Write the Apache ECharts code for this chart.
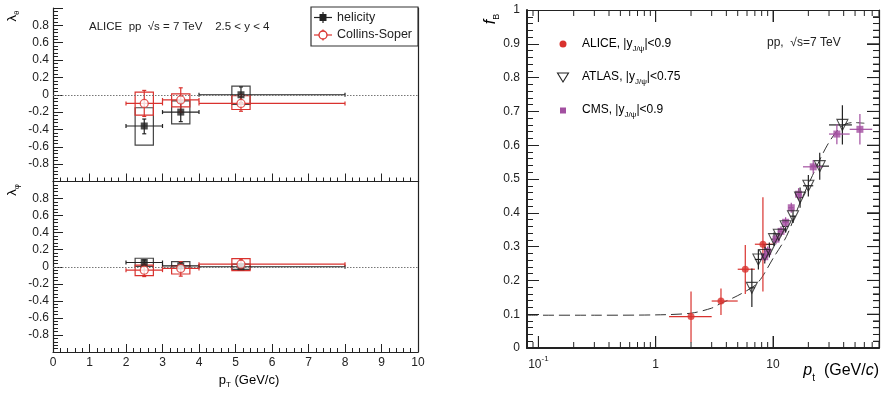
<!DOCTYPE html>
<html>
<head>
<meta charset="utf-8">
<script src="https://cdn.jsdelivr.net/npm/echarts@6/dist/echarts.min.js"></script>
<style>
  html, body {margin: 0; padding: 0; background: #fff;}
  #chart {width: 883px; height: 393px;}
</style>
</head>
<body>
<div id="chart"></div>
<script>
// ---- left: polarization parameters vs pT ----
const ptCenter = [2.5, 3.5, 5.15];
const ptLow = [2, 3, 4];
const ptHigh = [3, 4, 8];
const boxHalf = 0.25;

// lambda_theta, helicity frame
const lthHe = [-0.36, -0.20, 0.0];
const lthHeStatLo = [-0.45, -0.31, -0.09];
const lthHeStatHi = [-0.28, -0.09, 0.09];
const lthHeSysLo = [-0.58, -0.335, -0.11];
const lthHeSysHi = [-0.15, -0.07, 0.10];
// lambda_theta, Collins-Soper frame
const lthCs = [-0.10, -0.06, -0.10];
const lthCsStatLo = [-0.25, -0.20, -0.19];
const lthCsStatHi = [0.05, 0.08, 0.0];
const lthCsSysLo = [-0.235, -0.14, -0.17];
const lthCsSysHi = [0.03, 0.01, -0.01];
// lambda_phi, helicity frame
const lphHe = [0.05, 0.01, 0.0];
const lphHeStatLo = [0.02, -0.02, -0.03];
const lphHeStatHi = [0.08, 0.05, 0.03];
const lphHeSysLo = [0.005, -0.02, -0.03];
const lphHeSysHi = [0.10, 0.06, 0.03];
// lambda_phi, Collins-Soper frame
const lphCs = [-0.04, -0.02, 0.03];
const lphCsStatLo = [-0.115, -0.11, -0.03];
const lphCsStatHi = [0.03, 0.06, 0.09];
const lphCsSysLo = [-0.105, -0.085, -0.045];
const lphCsSysHi = [0.02, 0.01, 0.095];

// ---- right: non-prompt fraction f_B vs pt ----
const aliceX = [2.0, 3.6, 5.8, 8.2];
const aliceY = [0.093, 0.139, 0.233, 0.307];
const aliceXLo = [1.3, 3, 5, 7];
const aliceXHi = [3, 5, 7, 10];
const aliceYLo = [0.017, 0.098, 0.16, 0.167];
const aliceYHi = [0.167, 0.176, 0.305, 0.446];

const atlasX = [6.6, 7.5, 8.5, 9.3, 10.2, 11.2, 12.8, 14.8, 17, 20, 25, 39];
const atlasY = [0.178, 0.262, 0.275, 0.29, 0.322, 0.335, 0.36, 0.39, 0.445, 0.48, 0.538, 0.66];
const atlasErr = [0.057, 0.03, 0.025, 0.022, 0.02, 0.018, 0.018, 0.02, 0.03, 0.032, 0.04, 0.058];
const atlasXLo = [6.3, 7, 8, 9, 9.7, 10.7, 12, 14, 16, 18, 21, 30];
const atlasXHi = [7, 8, 9, 9.7, 10.7, 11.8, 13.5, 15.6, 18, 22, 30, 47];

const cmsX = [8.5, 9.0, 10.6, 11.7, 12.8, 14.3, 16.5, 22, 35, 55];
const cmsY = [0.27, 0.285, 0.322, 0.345, 0.372, 0.415, 0.455, 0.536, 0.633, 0.647];
const cmsErr = [0.015, 0.015, 0.015, 0.015, 0.015, 0.015, 0.018, 0.02, 0.03, 0.045];
const cmsXLo = [8, 8.5, 10, 11, 12, 13.5, 15.5, 18, 30, 45];
const cmsXHi = [9, 9.5, 11, 12.2, 13.5, 15, 17.5, 26.6, 45, 70];

const curveX = [0.08, 0.3, 1, 2, 3, 3.5, 5, 7, 8, 10, 13, 17, 21, 29, 38, 48, 60];
const curveY = [0.097, 0.097, 0.098, 0.103, 0.118, 0.13, 0.155, 0.185, 0.208, 0.265, 0.33, 0.43, 0.5, 0.6, 0.655, 0.667, 0.665];

// tick positions for the right frame (log x, mirrored y)
const logMajor = [0.1, 1, 10];
const logMinor = [0.09, 0.2, 0.3, 0.4, 0.5, 0.6, 0.7, 0.8, 0.9, 2, 3, 4, 5, 6, 7, 8, 9, 20, 30, 40, 50, 60, 70, 80];
const fbTicks = [];
for (let k = 1; k < 50; k++) fbTicks.push(k / 50);

const BLACK = '#222';
const RED = '#d9322e';
const PURPLE = '#a24fa0';
const FONT = 'Liberation Sans';

const chart = echarts.init(document.getElementById('chart'));

function errRender(color, cap) {
  return function (params, api) {
    const x = api.value(0), y = api.value(1);
    const c = api.coord([x, y]);
    const l = api.coord([api.value(2), y]);
    const r = api.coord([api.value(3), y]);
    const b = api.coord([x, api.value(4)]);
    const t = api.coord([x, api.value(5)]);
    const st = {stroke: color, lineWidth: 1.2};
    const kids = [
      {type: 'line', shape: {x1: l[0], y1: c[1], x2: r[0], y2: c[1]}, style: st},
      {type: 'line', shape: {x1: c[0], y1: b[1], x2: c[0], y2: t[1]}, style: st}
    ];
    if (cap) {
      kids.push({type: 'line', shape: {x1: l[0], y1: c[1] - cap, x2: l[0], y2: c[1] + cap}, style: st});
      kids.push({type: 'line', shape: {x1: r[0], y1: c[1] - cap, x2: r[0], y2: c[1] + cap}, style: st});
      kids.push({type: 'line', shape: {x1: c[0] - cap, y1: b[1], x2: c[0] + cap, y2: b[1]}, style: st});
      kids.push({type: 'line', shape: {x1: c[0] - cap, y1: t[1], x2: c[0] + cap, y2: t[1]}, style: st});
    }
    return {type: 'group', children: kids};
  };
}

function boxRender(color) {
  return function (params, api) {
    const x = api.value(0);
    const p1 = api.coord([x - boxHalf, api.value(2)]);
    const p2 = api.coord([x + boxHalf, api.value(1)]);
    return {
      type: 'rect',
      shape: {x: p1[0], y: p1[1], width: p2[0] - p1[0], height: p2[1] - p1[1]},
      style: {fill: 'none', stroke: color, lineWidth: 1.2}
    };
  };
}

function errData(xs, ys, xl, xh, yl, yh) {
  return xs.map((x, i) => [x, ys[i], xl[i], xh[i], yl[i], yh[i]]);
}
function boxData(lo, hi) {
  return ptCenter.map((x, i) => [x, lo[i], hi[i]]);
}
function pts(xs, ys) {
  return xs.map((x, i) => [x, ys[i]]);
}

const zeroLine = {
  silent: true, symbol: 'none', label: {show: false},
  lineStyle: {color: '#777', type: [1.5, 1.5], width: 1},
  data: [{yAxis: 0}]
};

function leftPanel(xi, yi, he, heLo, heHi, heSLo, heSHi, cs, csLo, csHi, csSLo, csSHi) {
  return [
    {type: 'custom', xAxisIndex: xi, yAxisIndex: yi, renderItem: boxRender('#444'),
     data: boxData(heSLo, heSHi), z: 2, markLine: zeroLine},
    {type: 'custom', xAxisIndex: xi, yAxisIndex: yi, renderItem: boxRender(RED),
     data: boxData(csSLo, csSHi), z: 2},
    {type: 'custom', xAxisIndex: xi, yAxisIndex: yi, renderItem: errRender(BLACK, 2),
     data: errData(ptCenter, he, ptLow, ptHigh, heLo, heHi), z: 3},
    {type: 'custom', xAxisIndex: xi, yAxisIndex: yi, renderItem: errRender(RED, 2),
     data: errData(ptCenter, cs, ptLow, ptHigh, csLo, csHi), z: 3},
    {type: 'scatter', xAxisIndex: xi, yAxisIndex: yi, symbol: 'rect', symbolSize: 7,
     itemStyle: {color: BLACK}, data: pts(ptCenter, he), z: 4},
    {type: 'scatter', xAxisIndex: xi, yAxisIndex: yi, symbol: 'circle', symbolSize: 8,
     itemStyle: {color: '#fff', borderColor: RED, borderWidth: 1.3}, data: pts(ptCenter, cs), z: 5}
  ];
}

const labelStyle = {color: BLACK, fontFamily: FONT, fontSize: 12};

function lamY(gi, showLabels) {
  return {
    gridIndex: gi, type: 'value', min: -1, max: 1, interval: 0.2,
    axisLine: {show: true, lineStyle: {color: BLACK, width: 1.2}},
    axisTick: {inside: true, length: 10, lineStyle: {color: BLACK}},
    minorTick: {show: true, splitNumber: 5, length: 5, lineStyle: {color: BLACK}},
    splitLine: {show: false},
    axisLabel: Object.assign({show: showLabels, margin: 4, showMinLabel: false, showMaxLabel: false,
      formatter: v => Math.abs(v) < 1e-9 ? '0' : v.toFixed(1)}, labelStyle)
  };
}
function sideY(gi) {
  return {
    gridIndex: gi, type: 'value', position: 'right', min: -1, max: 1,
    axisLine: {show: true, lineStyle: {color: BLACK, width: 1.2}},
    axisTick: {show: false}, axisLabel: {show: false}, splitLine: {show: false}
  };
}
function ptX(gi, showLabels) {
  return {
    gridIndex: gi, type: 'value', min: 0, max: 10, interval: 1,
    axisLine: {show: true, onZero: false, lineStyle: {color: BLACK, width: 1.2}},
    axisTick: {inside: true, length: 8, lineStyle: {color: BLACK}},
    minorTick: {show: true, splitNumber: 5, length: 4, lineStyle: {color: BLACK}},
    splitLine: {show: false},
    axisLabel: Object.assign({show: showLabels, margin: 5}, labelStyle)
  };
}
function logX(pos, showLabels) {
  return {
    gridIndex: 2, type: 'log', logBase: 10, min: 0.08, max: 80, position: pos, zlevel: 1, z: 20,
    axisLine: {show: true, onZero: false, lineStyle: {color: BLACK, width: pos === 'bottom' ? 2 : 1.2}},
    axisTick: {inside: true, length: 12, lineStyle: {color: BLACK}},
    splitLine: {show: false},
    axisLabel: {show: showLabels, margin: 7, showMinLabel: false, showMaxLabel: false,
      formatter: v => {
        const e = Math.round(Math.log10(v));
        if (e === 0) return '{b|1}';
        if (e === 1) return '{b|10}';
        return '{b|10}{s|' + e + '}';
      },
      rich: {
        b: {fontFamily: FONT, fontSize: 12, color: BLACK, lineHeight: 16, verticalAlign: 'bottom'},
        s: {fontFamily: FONT, fontSize: 8, color: BLACK, lineHeight: 16, verticalAlign: 'top'}
      }}
  };
}
function fbY(pos, showLabels) {
  return {
    gridIndex: 2, type: 'value', min: 0, max: 1, interval: 0.1, position: pos, zlevel: 1, z: 20,
    axisLine: {show: true, onZero: false, lineStyle: {color: BLACK, width: pos === 'left' ? 2 : 1.2}},
    axisTick: {inside: true, length: 12, lineStyle: {color: BLACK}},
    minorTick: {show: true, splitNumber: 5, length: 6, lineStyle: {color: BLACK}},
    splitLine: {show: false},
    axisLabel: Object.assign({show: showLabels, margin: 7,
      formatter: v => Math.abs(v) < 1e-9 ? '0' : (Math.abs(v - 1) < 1e-9 ? '1' : v.toFixed(1))}, labelStyle)
  };
}

// ticks along bottom and top edges of the log panel
function logTickRender(params, api) {
  const cs = params.coordSys;
  const x = api.coord([api.value(0), 0.5])[0];
  const len = api.value(2) ? 12 : 6;
  const bottom = cs.y + cs.height, top = cs.y;
  const st = {stroke: BLACK, lineWidth: 1};
  return {type: 'group', children: [
    {type: 'line', shape: {x1: x, y1: bottom, x2: x, y2: bottom - len}, style: st},
    {type: 'line', shape: {x1: x, y1: top, x2: x, y2: top + len}, style: st}
  ]};
}
// ticks along the right edge of the log panel
function rightTickRender(params, api) {
  const cs = params.coordSys;
  const y = api.coord([1, api.value(1)])[1];
  const len = api.value(2) ? 12 : 6;
  const right = cs.x + cs.width;
  return {type: 'line', shape: {x1: right, y1: y, x2: right - len, y2: y},
    style: {stroke: BLACK, lineWidth: 1}};
}

function yErr(ys, e) { return ys.map((y, i) => y - e[i]); }
function yErrHi(ys, e) { return ys.map((y, i) => y + e[i]); }

const subTxt = {fontFamily: FONT, fontSize: 8, color: BLACK, verticalAlign: 'bottom', lineHeight: 18};
const mainTxt = {fontFamily: FONT, fontSize: 12, color: BLACK, verticalAlign: 'middle', lineHeight: 18};

chart.setOption({
  animation: false,
  backgroundColor: '#fff',
  grid: [
    {left: 53, top: 8, width: 365, height: 173.5},
    {left: 53, top: 181.5, width: 365, height: 170.5},
    {left: 527, top: 10, width: 352, height: 338}
  ],
  xAxis: [ptX(0, false), ptX(1, true), logX('bottom', true), logX('top', false)],
  yAxis: [lamY(0, true), sideY(0), lamY(1, true), sideY(1), fbY('left', true), fbY('right', false)],
  series: [
    ...leftPanel(0, 0, lthHe, lthHeStatLo, lthHeStatHi, lthHeSysLo, lthHeSysHi,
      lthCs, lthCsStatLo, lthCsStatHi, lthCsSysLo, lthCsSysHi),
    ...leftPanel(1, 2, lphHe, lphHeStatLo, lphHeStatHi, lphHeSysLo, lphHeSysHi,
      lphCs, lphCsStatLo, lphCsStatHi, lphCsSysLo, lphCsSysHi),
    {type: 'custom', xAxisIndex: 2, yAxisIndex: 4, renderItem: logTickRender, clip: false,
     encode: {x: 0, y: 1}, silent: true, zlevel: 1, z: 20,
     data: logMajor.map(v => [v, 0.5, 1]).concat(logMinor.map(v => [v, 0.5, 0]))},
    {type: 'custom', xAxisIndex: 2, yAxisIndex: 4, renderItem: rightTickRender, clip: false,
     encode: {x: 0, y: 1}, silent: true, zlevel: 1, z: 20,
     data: fbTicks.map((v, k) => [1, v, (k + 1) % 5 === 0 ? 1 : 0])},
    {type: 'line', xAxisIndex: 2, yAxisIndex: 4, data: pts(curveX, curveY), smooth: 0.3,
     showSymbol: false, lineStyle: {color: '#333', width: 1, type: [11, 5]}, z: 2},
    {type: 'custom', xAxisIndex: 2, yAxisIndex: 4, renderItem: errRender(RED, 0),
     data: errData(aliceX, aliceY, aliceXLo, aliceXHi, aliceYLo, aliceYHi), z: 3},
    {type: 'custom', xAxisIndex: 2, yAxisIndex: 4, renderItem: errRender(BLACK, 0),
     data: errData(atlasX, atlasY, atlasXLo, atlasXHi, yErr(atlasY, atlasErr), yErrHi(atlasY, atlasErr)), z: 3},
    {type: 'custom', xAxisIndex: 2, yAxisIndex: 4, renderItem: errRender(PURPLE, 0),
     data: errData(cmsX, cmsY, cmsXLo, cmsXHi, yErr(cmsY, cmsErr), yErrHi(cmsY, cmsErr)), z: 3},
    {name: 'CMS', type: 'scatter', xAxisIndex: 2, yAxisIndex: 4, symbol: 'rect', symbolSize: 7,
     itemStyle: {color: PURPLE}, data: pts(cmsX, cmsY), z: 4},
    {name: 'ATLAS', type: 'scatter', xAxisIndex: 2, yAxisIndex: 4, symbol: 'triangle', symbolRotate: 180,
     symbolSize: 11, itemStyle: {color: 'rgba(255,255,255,0)', borderColor: BLACK, borderWidth: 1.1},
     data: pts(atlasX, atlasY), z: 5},
    {name: 'ALICE', type: 'scatter', xAxisIndex: 2, yAxisIndex: 4, symbol: 'circle', symbolSize: 7,
     itemStyle: {color: RED}, data: pts(aliceX, aliceY), z: 6}
  ],
  graphic: [
    // axis titles
    {type: 'text', x: 12, y: 16, rotation: Math.PI / 2, style: {
      text: '{m|λ}{s|θ}', align: 'center', verticalAlign: 'middle',
      rich: {m: {fontFamily: FONT, fontSize: 13, color: BLACK, lineHeight: 18, verticalAlign: 'middle'},
             s: {fontFamily: FONT, fontSize: 8, color: BLACK, lineHeight: 18, verticalAlign: 'bottom'}}}},
    {type: 'text', x: 12, y: 190, rotation: Math.PI / 2, style: {
      text: '{m|λ}{s|φ}', align: 'center', verticalAlign: 'middle',
      rich: {m: {fontFamily: FONT, fontSize: 13, color: BLACK, lineHeight: 18, verticalAlign: 'middle'},
             s: {fontFamily: FONT, fontSize: 8, color: BLACK, lineHeight: 18, verticalAlign: 'bottom'}}}},
    {type: 'text', x: 249, y: 380, style: {
      text: '{m|p}{s|T}{m| (GeV/c)}', align: 'center', verticalAlign: 'middle',
      rich: {m: {fontFamily: FONT, fontSize: 13, color: BLACK, lineHeight: 18, verticalAlign: 'middle'},
             s: {fontFamily: FONT, fontSize: 8, color: BLACK, lineHeight: 18, verticalAlign: 'bottom'}}}},
    {type: 'text', x: 491, y: 19, rotation: Math.PI / 2, style: {
      text: '{m|f}{s|B}', align: 'center', verticalAlign: 'middle',
      rich: {m: {fontFamily: FONT, fontSize: 16, fontStyle: 'italic', color: BLACK, lineHeight: 20, verticalAlign: 'middle'},
             s: {fontFamily: FONT, fontSize: 9, color: BLACK, lineHeight: 20, verticalAlign: 'bottom'}}}},
    {type: 'text', x: 879, y: 371, style: {
      text: '{i|p}{s|t}{m|  (GeV/}{i|c}{m|)}', align: 'right', verticalAlign: 'middle',
      rich: {i: {fontFamily: FONT, fontSize: 16, fontStyle: 'italic', color: BLACK, lineHeight: 22, verticalAlign: 'middle'},
             m: {fontFamily: FONT, fontSize: 16, color: BLACK, lineHeight: 22, verticalAlign: 'middle'},
             s: {fontFamily: FONT, fontSize: 10, color: BLACK, lineHeight: 24, verticalAlign: 'bottom'}}}},
    // annotations
    {type: 'text', x: 89, y: 27, style: {text: 'ALICE  pp  √s = 7 TeV    2.5 < y < 4', fontFamily: FONT,
      fontSize: 11.5, fill: BLACK, verticalAlign: 'middle'}},
    {type: 'text', x: 767, y: 43, style: {text: 'pp,  √s=7 TeV', fontFamily: FONT,
      fontSize: 12, fill: BLACK, verticalAlign: 'middle'}},
    // left legend
    {type: 'rect', shape: {x: 311, y: 7, width: 107, height: 39}, style: {fill: '#fff', stroke: '#333', lineWidth: 1.2}, z: 10},
    {type: 'line', shape: {x1: 314, y1: 17.5, x2: 332, y2: 17.5}, style: {stroke: BLACK, lineWidth: 1.2}, z: 11},
    {type: 'line', shape: {x1: 323, y1: 12, x2: 323, y2: 23}, style: {stroke: BLACK, lineWidth: 1.2}, z: 11},
    {type: 'rect', shape: {x: 319.5, y: 14, width: 7, height: 7}, style: {fill: BLACK}, z: 12},
    {type: 'text', x: 337, y: 17.5, style: {text: 'helicity', fontFamily: FONT, fontSize: 12.5, fill: BLACK, verticalAlign: 'middle'}, z: 12},
    {type: 'line', shape: {x1: 314, y1: 35, x2: 332, y2: 35}, style: {stroke: RED, lineWidth: 1.2}, z: 11},
    {type: 'line', shape: {x1: 323, y1: 29.5, x2: 323, y2: 40.5}, style: {stroke: RED, lineWidth: 1.2}, z: 11},
    {type: 'circle', shape: {cx: 323, cy: 35, r: 4}, style: {fill: '#fff', stroke: RED, lineWidth: 1.3}, z: 12},
    {type: 'text', x: 337, y: 35, style: {text: 'Collins-Soper', fontFamily: FONT, fontSize: 12.5, fill: BLACK, verticalAlign: 'middle'}, z: 12},
    // right legend
    {type: 'circle', shape: {cx: 563, cy: 44, r: 3.5}, style: {fill: RED}},
    {type: 'polygon', shape: {points: [[557.5, 73], [568.5, 73], [563, 82]]}, style: {fill: 'none', stroke: BLACK, lineWidth: 1.1}},
    {type: 'rect', shape: {x: 560, y: 107.5, width: 6, height: 6}, style: {fill: PURPLE}},
    {type: 'text', x: 582, y: 44, style: {text: '{m|ALICE, |y}{s|J/ψ}{m||<0.9}', verticalAlign: 'middle', rich: {m: mainTxt, s: subTxt}}},
    {type: 'text', x: 582, y: 77, style: {text: '{m|ATLAS, |y}{s|J/ψ}{m||<0.75}', verticalAlign: 'middle', rich: {m: mainTxt, s: subTxt}}},
    {type: 'text', x: 582, y: 110, style: {text: '{m|CMS, |y}{s|J/ψ}{m||<0.9}', verticalAlign: 'middle', rich: {m: mainTxt, s: subTxt}}}
  ]
});
</script>
</body>
</html>
